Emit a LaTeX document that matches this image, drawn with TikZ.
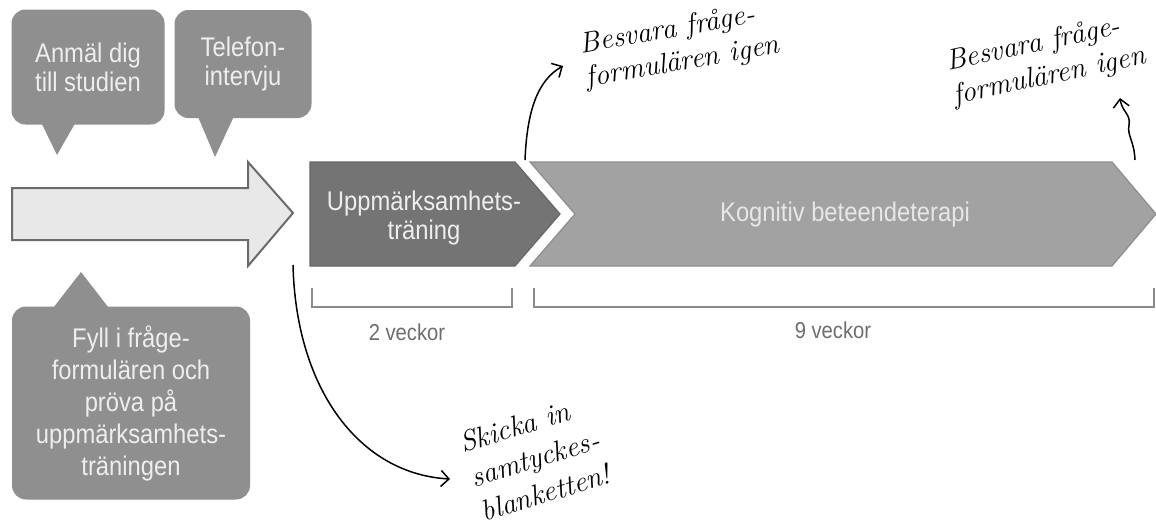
\documentclass[tikz,border=0pt]{standalone}
\usepackage{fontspec}
\setmainfont{Liberation Sans}[FakeStretch=0.88]
\newfontfamily\handfont{Latin Modern Roman}
\definecolor{bubblefill}{HTML}{8F8F8F}
\definecolor{bubbletext}{HTML}{EEEEEE}
\definecolor{darkstep}{HTML}{747474}
\definecolor{darkedge}{HTML}{666666}
\definecolor{lightstep}{HTML}{A2A2A2}
\definecolor{lightedge}{HTML}{8E8E8E}
\definecolor{arrowfill}{HTML}{E8E8E8}
\definecolor{arrowline}{HTML}{6B6B6B}
\definecolor{bracegray}{HTML}{8A8A8A}
\definecolor{weektext}{HTML}{6E6E6E}
\usetikzlibrary{arrows.meta}

\begin{document}
\begin{tikzpicture}[x=0.5pt,y=-0.5pt,
  every node/.style={font=\fontsize{13.5}{14.5}\selectfont},
  bubble/.style={fill=bubblefill,rounded corners=7pt,text=bubbletext,align=center,inner sep=0pt},
  hand/.style={-{Straight Barb[length=4pt,width=8pt]},line width=0.75pt},
  note/.style={font=\handfont\itshape\fontsize{14.5}{17}\selectfont,align=left,inner sep=0pt},
  brace/.style={draw=bracegray,line width=1.4pt}]
\useasboundingbox (0,0) rectangle (1156,525);

% speech bubbles
\fill[bubblefill] (40,120) -- (57,155) -- (77,120) -- cycle;
\node[bubble,minimum width=76.5pt,minimum height=57.5pt] (signup) at (88,67) {Anmäl dig\\till studien};
\fill[bubblefill] (196,112) -- (215,157) -- (236,112) -- cycle;
\node[bubble,minimum width=68.5pt,minimum height=54pt] (phone) at (243,64) {Telefon-\\intervju};
\fill[bubblefill] (50,312) -- (81,272) -- (112,312) -- cycle;
\node[bubble,minimum width=119pt,minimum height=96.5pt,font=\fontsize{13.5}{16}\selectfont] (fillin) at (131,403) {Fyll i fråge-\\formulären och\\pröva på\\uppmärksamhets-\\träningen};

% big arrow
\draw[fill=arrowfill,draw=arrowline,line width=1pt] (12,188) -- (248,188) -- (248,162) -- (293,213) -- (248,266) -- (248,240) -- (12,240) -- cycle;

% steps
\draw[fill=darkstep,draw=darkedge,line width=0.6pt] (310,162) -- (515,162) -- (560,214) -- (515,266) -- (310,266) -- cycle;
\node[text=bubbletext,align=center] (awareness) at (424,218) {Uppmärksamhets-\\träning};
\draw[fill=lightstep,draw=lightedge,line width=0.6pt] (530,162) -- (1112,162) -- (1156,214) -- (1112,266) -- (530,266) -- (575,214) -- cycle;
\node[text=bubbletext!90!lightstep] (cbt) at (845,215) {Kognitiv beteendeterapi};

% weeks
\draw[brace] (312,288) -- (312,307) -- (512,307) -- (512,288);
\draw[brace] (534,288) -- (534,307) -- (1154,307) -- (1154,288);
\node[font=\fontsize{11.5}{13}\selectfont,text=weektext] (twoweeks) at (407,332) {2 veckor};
\node[font=\fontsize{11.5}{13}\selectfont,text=weektext] (nineweeks) at (833,330) {9 veckor};

% handwritten notes
\node[note,rotate=10] (again1) at (680,46) {Besvara fråge-\\formulären igen};
\node[note,rotate=12] (again2) at (1046,60) {Besvara fråge-\\formulären igen};
\node[note,rotate=17,font=\handfont\itshape\fontsize{14.5}{18}\selectfont] (consent) at (535,458) {Skicka in\\samtyckes-\\blanketten!};

\coordinate (gap) at (525,160);
\coordinate (tip1) at (563,66);
\coordinate (stepend) at (1135,160);
\coordinate (tip2) at (1120,98);
\coordinate (arrowend) at (293,265);
\coordinate (tip3) at (450,479);
\draw[hand] (gap) .. controls (527,110) and (538,80) .. (tip1);
\draw[hand] (stepend) .. controls (1134,140) and (1127,136) .. (1129,125) .. controls (1131,114) and (1122,112) .. (tip2);
\draw[hand] (arrowend) .. controls (296,390) and (360,474) .. (tip3);
\end{tikzpicture}
\end{document}
